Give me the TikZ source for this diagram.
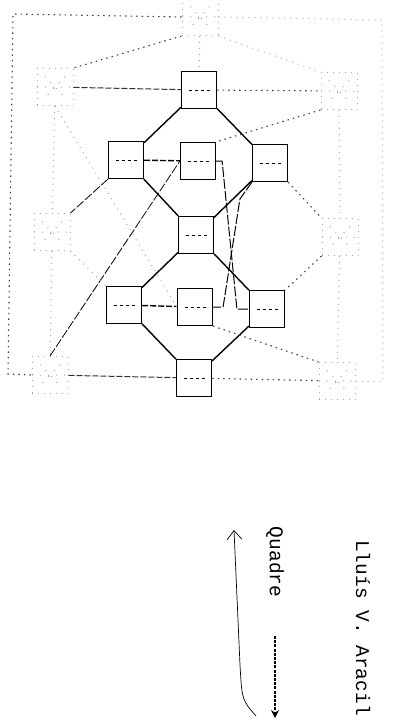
\documentclass[tikz,border=0pt]{standalone}
\usepackage{fontspec}
\newfontfamily\typewriter{Liberation Mono}
\usetikzlibrary{arrows.meta}

\begin{document}
\begin{tikzpicture}[x=1pt,y=-1pt,
  box/.style={draw,line width=1.2pt,minimum width=35pt,minimum height=37pt,inner sep=0pt,
    path picture={\draw[dash pattern=on 3pt off 3pt,line width=0.6pt] ([xshift=7pt]path picture bounding box.west) -- ([xshift=-7pt]path picture bounding box.east);}},
  ghost/.style={draw=gray!70,line width=1pt,dash pattern=on 1pt off 5pt,minimum width=36pt,minimum height=37pt,inner sep=0pt,
    path picture={\draw[gray!70,line width=1pt,dash pattern=on 1pt off 7pt]
      (path picture bounding box.west) -- (path picture bounding box.east)
      ([shift={(8pt,-8pt)}]path picture bounding box.north west) -- ([shift={(-8pt,8pt)}]path picture bounding box.south east)
      ([shift={(-8pt,-8pt)}]path picture bounding box.north east) -- ([shift={(8pt,8pt)}]path picture bounding box.south west);}},
  link/.style={line width=1.4pt},
  cross/.style={line width=1pt,dash pattern=on 10pt off 2pt},
  faint/.style={gray!70,line width=1pt,dash pattern=on 1pt off 5pt},
  dark/.style={black!75,line width=1.1pt,dash pattern=on 1.5pt off 4pt},
  label/.style={rotate=-90,font=\typewriter\fontsize{19.5}{20}\selectfont}]
  \useasboundingbox (0,0) rectangle (393,725);
  % lattice
  \node[box] (tc) at (199,90) {};
  \node[box] (r2l) at (126,160) {};
  \node[box] (r2m) at (198,161) {};
  \node[box] (r2r) at (270,163) {};
  \node[box] (cen) at (196,235) {};
  \node[box] (r4l) at (124,305) {};
  \node[box] (r4m) at (195,307) {};
  \node[box] (r4r) at (267,309) {};
  \node[box] (bc) at (194,378) {};
  % outer ring
  \node[ghost] (apex) at (200,17) {};
  \node[ghost] (lu) at (55,87) {};
  \node[ghost] (ru) at (339,91) {};
  \node[ghost] (lm) at (52,232) {};
  \node[ghost] (rm) at (340,237) {};
  \node[ghost] (bl) at (50,375) {};
  \node[ghost] (br) at (337,381) {};
  \coordinate (fnw) at (13,14); \coordinate (fsw) at (8,374);
  \coordinate (fne) at (382,20); \coordinate (fse) at (383,382);

  \draw[link] (tc) -- (r2l); \draw[link] (tc) -- (r2r);
  \draw[link] (r2l) -- (cen); \draw[link] (r2r) -- (cen);
  \draw[link] (cen) -- (r4l); \draw[link] (cen) -- (r4r);
  \draw[link] (r4l) -- (bc); \draw[link] (r4r) -- (bc);
  \draw[link,dash pattern=on 6pt off 2pt] (r2l) -- (r2m);
  \draw[link,dash pattern=on 6pt off 2pt] (r4l) -- (r4m);
  \draw[cross] (r2m.east) -- ++(6,0) -- ([xshift=-12pt]r4r.west) -- (r4r.west);
  \draw[cross] (r2r.south west) -- ++(-12,17) -- ([xshift=10pt]r4m.east) -- (r4m.east);
  \draw[line width=0.8pt,dash pattern=on 9pt off 2pt] (bl.north) -- (r2m.west);
  \draw[line width=0.8pt,dash pattern=on 9pt off 2pt] (r2l.south west) -- (lm.north east);

  \draw[dark] (apex.south west) -- (lu.north east);
  \draw[faint] (apex.south east) -- (ru.north west);
  \draw[faint] (apex) -- (tc);
  \draw[black!80,line width=1pt,dash pattern=on 6pt off 2pt] (lu) -- (tc);
  \draw[dark] (tc) -- (ru);
  \draw[dark] (ru.south west) -- (r2m.north east);
  \draw[faint] (lu.south) -- (r4m.west);
  \draw[faint] (lu) -- (lm); \draw[faint] (lm) -- (bl);
  \draw[faint] (ru) -- (rm); \draw[faint] (rm) -- (br);
  \draw[dark] (r2r.south east) -- (rm.north west);
  \draw[dark] (rm.south west) -- (r4r.north east);
  \draw[faint] (lm.south east) -- (r4l.north west);
  \draw[dark] (r4m.south east) -- (br.north west);
  \draw[black!80,line width=1pt,dash pattern=on 6pt off 2pt] (bl) -- (bc);
  \draw[dark] (bc) -- (br);
  \draw[dark] (apex.west) -- (fnw) -- (fsw) -- (bl.west);
  \draw[faint] (apex.east) -- (fne) -- (fse) -- (br.east);

  % caption
  \node[label] (quadre) at (275,562) {Quadre};
  \node[label] (autor) at (363,628) {Lluís V. Aracil};
  \coordinate (qa) at (275,636); \coordinate (qb) at (275,718);
  \draw[line width=1.8pt,dash pattern=on 3pt off 1.2pt,-{Stealth[length=8pt,width=8pt]}] (qa) -- (qb);
  \coordinate (ca) at (256,716); \coordinate (cb) at (234,530);
  \draw[line width=0.7pt,-{Straight Barb[length=9pt,width=15pt]}] (ca) .. controls (242,700) .. (240,665) -- (cb);
\end{tikzpicture}
\end{document}
